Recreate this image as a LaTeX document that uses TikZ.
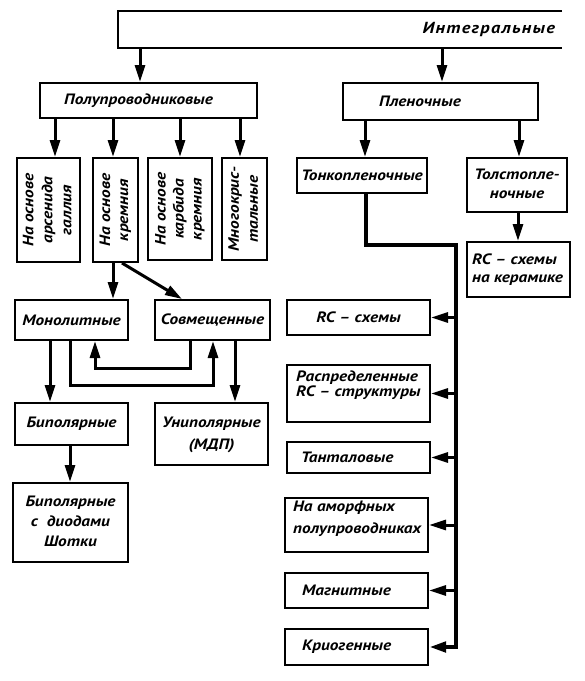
\documentclass[tikz,border=0pt]{standalone}
\usepackage{fontspec}
\setmainfont{PT Sans}[FakeStretch=1.15]
\usepackage{graphicx}
\usetikzlibrary{arrows.meta}
\newcommand\mlines[3]{{\fontsize{15}{#2}\selectfont\begin{tabular}{@{}#1@{}}#3\end{tabular}}}
\tikzset{
  box/.style={draw, line width=2pt, inner sep=0pt},
  txt/.style={inner sep=0pt, font=\fontsize{15}{18}\selectfont\bfseries\itshape},
  arr/.style={line width=3pt, -{Triangle[length=17pt,width=10pt]}},
  trunk/.style={line width=4.5pt, -{Triangle[length=17pt,width=10pt]}},
}
\begin{document}
\begin{tikzpicture}[x=1pt,y=-1pt]
\useasboundingbox (0,0) rectangle (585,681);
% top box (open on the right)
\node[minimum width=444pt, minimum height=37pt, inner sep=0pt] (integ) at (340,29.5) {};
\draw[line width=2pt] (integ.north east) -- (integ.north west) -- (integ.south west) -- (integ.south east);
\node[txt, anchor=east] (integt) at ([xshift=-7pt]integ.east) {\fontsize{16}{18}\selectfont\addfontfeature{LetterSpace=8}Интегральные};
% second level
\node[box, minimum width=217pt, minimum height=35pt] (poly) at (148.5,100.5) {};
\node[txt, anchor=west] (polyt) at ([xshift=25pt]poly.west) {Полупроводниковые};
\node[box, minimum width=195pt, minimum height=37pt] (plen) at (440.5,101.5) {};
\node[txt, anchor=west] (plent) at ([xshift=37pt]plen.west) {Пленочные};
% semiconductor bases
\node[box, minimum width=63pt, minimum height=104pt] (b1) at (48.5,210) {};
\node[txt] (b1t) at (b1.center) {\rotatebox{90}{\mlines{c}{19}{На основе\\арсенида\\галлия}}};
\node[box, minimum width=45pt, minimum height=104pt] (b2) at (115.5,210) {};
\node[txt] (b2t) at (b2.center) {\rotatebox{90}{\mlines{c}{18}{На основе\\кремния}}};
\node[box, minimum width=64pt, minimum height=102pt] (b3) at (180,209) {};
\node[txt] (b3t) at (b3.center) {\rotatebox{90}{\mlines{c}{18}{На основе\\карбида\\кремния}}};
\node[box, minimum width=45pt, minimum height=102pt] (b4) at (244.5,209) {};
\node[txt] (b4t) at (b4.center) {\rotatebox{90}{\mlines{c}{19}{Многокрис-\\тальные}}};
% film
\node[box, minimum width=130pt, minimum height=35pt] (tonk) at (362,175.5) {};
\node[txt] (tonkt) at (tonk.center) {Тонкопленочные};
\node[box, minimum width=100pt, minimum height=54pt] (tolst) at (517,185) {};
\node[txt] (tolstt) at (tolst.center) {\mlines{c}{19}{Толстопле-\\ночные}};
\node[box, minimum width=103pt, minimum height=55pt] (rck) at (518.5,269.5) {};
\node[txt, anchor=west] (rckt) at ([xshift=6pt]rck.west) {\mlines{l}{18}{RC – схемы\\на керамике}};
% monolithic / combined
\node[box, minimum width=113pt, minimum height=40pt] (mono) at (71.5,320) {};
\node[txt] (monot) at (mono.center) {Монолитные};
\node[box, minimum width=115pt, minimum height=40pt] (sovm) at (212.5,320) {};
\node[txt] (sovmt) at (sovm.center) {Совмещенные};
\node[box, minimum width=113pt, minimum height=42pt] (bip) at (71.5,424) {};
\node[txt] (bipt) at (bip.center) {Биполярные};
\node[box, minimum width=113pt, minimum height=62pt] (unip) at (211.5,434) {};
\node[txt] (unipt) at (unip.center) {\mlines{c}{22}{Униполярные\\(МДП)}};
\node[box, minimum width=115pt, minimum height=79pt] (shot) at (70.5,522.5) {};
\node[txt] (shott) at (shot.center) {\mlines{c}{20}{Биполярные\\с\ \ диодами\\Шотки}};
% thin-film kinds
\node[box, minimum width=143pt, minimum height=35pt] (rc) at (358.5,317.5) {};
\node[txt] (rct) at (rc.center) {RC – схемы};
\node[box, minimum width=143pt, minimum height=57pt] (rasp) at (358.5,393.5) {};
\node[txt, anchor=west] (raspt) at (296,386) {\mlines{l}{15}{Распределенные\\RC – структуры}};
\node[box, minimum width=143pt, minimum height=31pt] (tant) at (358.5,457.5) {};
\node[txt, anchor=west] (tantt) at ([xshift=15pt]tant.west) {Танталовые};
\node[box, minimum width=143pt, minimum height=54pt] (amor) at (356.5,525) {};
\node[txt, anchor=west] (amort) at (293,518) {\mlines{l}{22}{На аморфных\\полупроводниках}};
\node[box, minimum width=143pt, minimum height=35pt] (magn) at (356.5,590.5) {};
\node[txt, anchor=west] (magnt) at ([xshift=18pt]magn.west) {Магнитные};
\node[box, minimum width=143pt, minimum height=36pt] (krio) at (356.5,647) {};
\node[txt, anchor=west] (kriot) at ([xshift=18pt]krio.west) {Криогенные};
% connectors
\draw[arr] (integ.south -| 140,0) -- (poly.north -| 140,0);
\draw[arr] (integ.south -| 442,0) -- (plen.north -| 442,0);
\foreach \n/\x in {b1/55,b2/113,b3/180,b4/240}
  \draw[arr] (poly.south -| \x,0) -- (\n.north -| \x,0);
\draw[arr] (plen.south -| 365,0) -- (tonk.north -| 365,0);
\draw[arr] (plen.south -| 519,0) -- (tolst.north -| 519,0);
\draw[arr] (tolst.south -| 518,0) -- (rck.north -| 518,0);
\draw[arr] (b2.south -| 113,0) -- (mono.north -| 113,0);
\draw[arr] (b2.south -| 122,0) -- (sovm.north -| 182,0);
\draw[arr] (mono.south -| 50,0) -- (bip.north -| 50,0);
\draw[arr] (sovm.south -| 235,0) -- (unip.north -| 235,0);
\draw[arr] (sovm.south -| 190,0) |- (95,368) -- (mono.south -| 95,0);
\draw[arr] (mono.south -| 70,0) |- (213,385) -- (sovm.south -| 213,0);
\draw[arr] (bip.south -| 70,0) -- (shot.north -| 70,0);
\draw[trunk] (tonk.south -| 366,0) |- (456,245) |- (krio.east);
\foreach \n in {rc,rasp,tant,amor,magn}
  \draw[arr] (\n.east -| 456,0) -- (\n.east);
\end{tikzpicture}
\end{document}
